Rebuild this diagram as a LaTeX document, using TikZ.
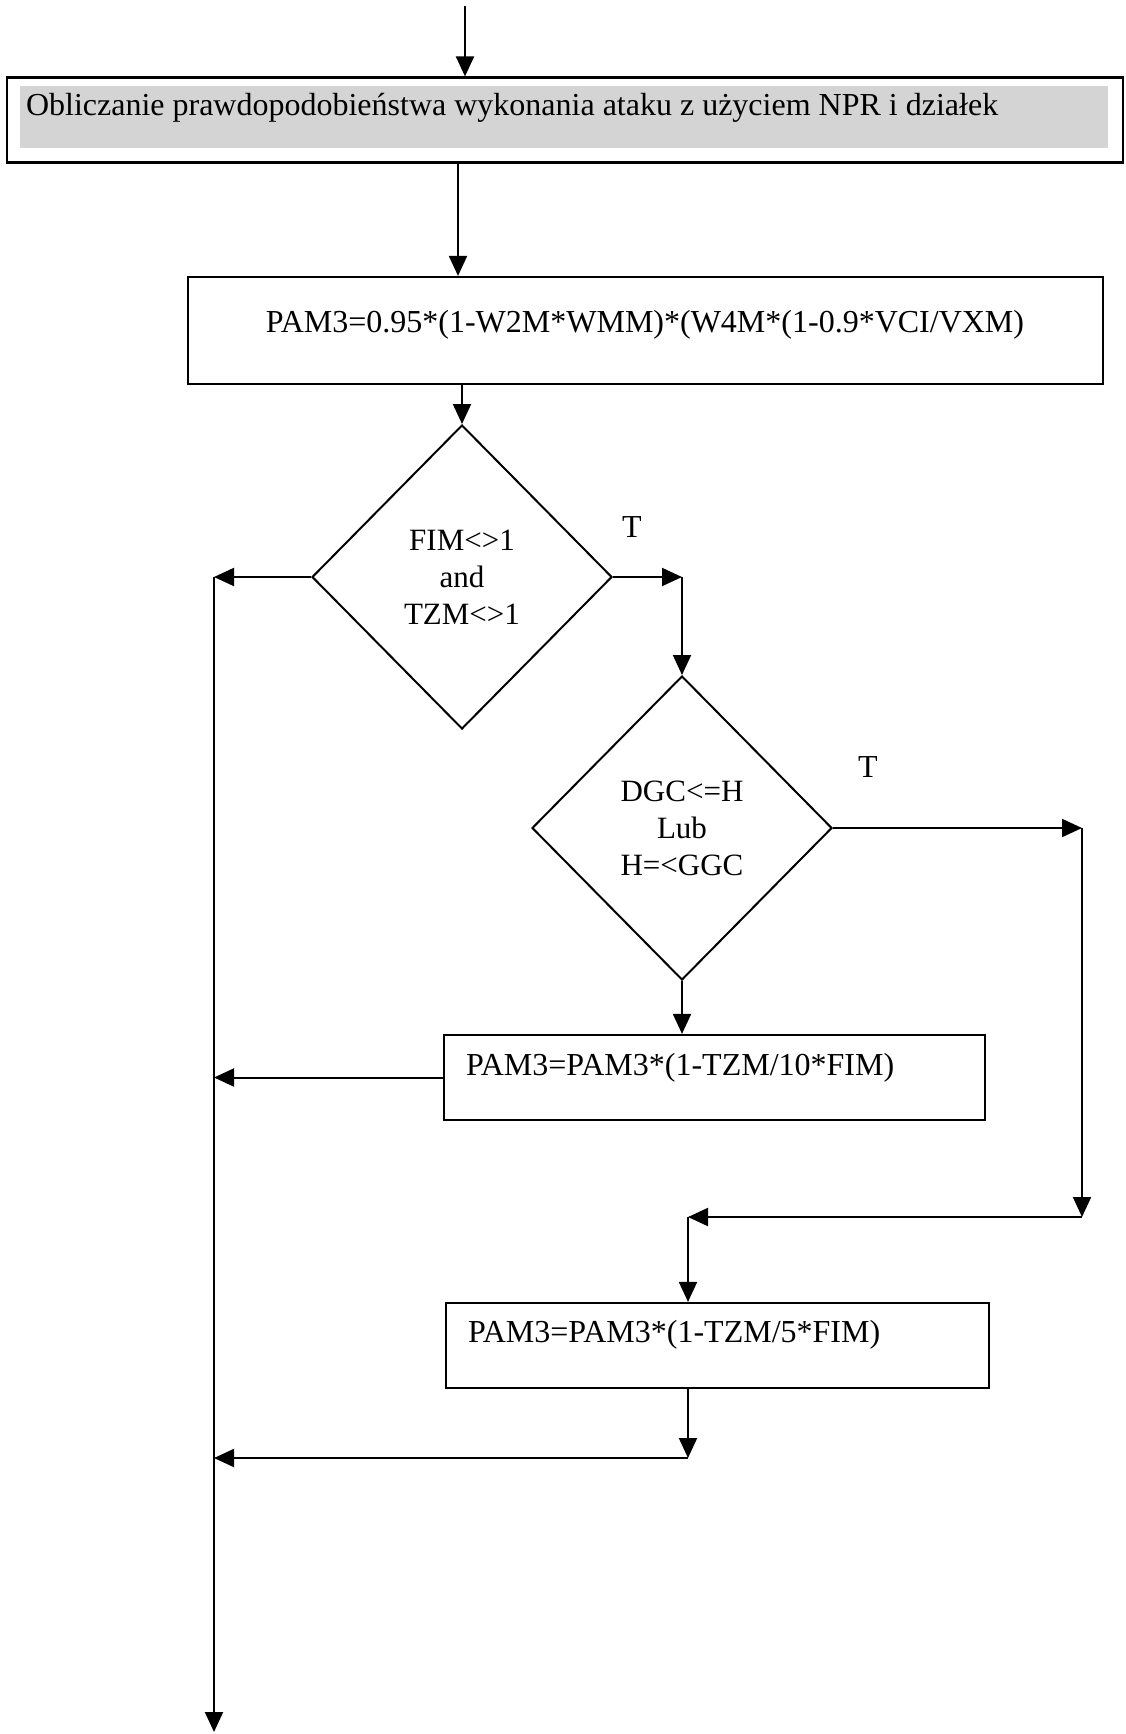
\documentclass[tikz,border=0pt]{standalone}
\usepackage{fontspec}
\setmainfont{Liberation Serif}
\usetikzlibrary{shapes.geometric,arrows.meta}

\begin{document}
\begin{tikzpicture}[x=1pt,y=-1pt,
  line width=2pt,
  >={Triangle[length=20pt,width=18pt]},
  proc/.style={draw,line width=2.2pt,rectangle,inner sep=0pt},
  decision/.style={draw,diamond,line width=2pt,inner sep=0pt,
    minimum width=300pt,minimum height=304pt,
    font=\fontsize{31}{37}\selectfont,align=center},
  lbl/.style={font=\fontsize{32}{37}\selectfont,inner sep=0pt,align=center},
]
\useasboundingbox (0,0) rectangle (1125,1734);

% header box with shaded band
\node[proc,minimum width=1116pt,minimum height=85pt] (b1) at (565,120) {};
\node[fill=black!17,minimum width=1088pt,minimum height=62pt,inner sep=0pt] (b1band) at (564,117) {};
\node[lbl,anchor=west] (b1t) at (25,108) {Obliczanie prawdopodobieństwa wykonania ataku z użyciem NPR i działek};

% initial probability
\node[proc,minimum width=915pt,minimum height=107pt] (b2) at (645.5,330.5) {};
\node[lbl] (b2t) at (645,325) {PAM3=0.95*(1-W2M*WMM)*(W4M*(1-0.9*VCI/VXM)};

% decisions
\node[decision] (d1) at (462,577) {FIM<>1\\and\\TZM<>1};
\node[lbl] (t1) at (632,527) {T};
\node[decision] (d2) at (682,828) {DGC<=H\\Lub\\H=<GGC};
\node[lbl] (t2) at (868,767) {T};

% corrections
\node[proc,minimum width=541pt,minimum height=85pt] (b3) at (714.5,1077.5) {};
\node[lbl,anchor=west] (b3t) at (465,1068) {PAM3=PAM3*(1-TZM/10*FIM)};
\node[proc,minimum width=543pt,minimum height=85pt] (b4) at (717.5,1345.5) {};
\node[lbl,anchor=west] (b4t) at (467,1335) {PAM3=PAM3*(1-TZM/5*FIM)};

% helper coordinates for the routing
\coordinate (in) at (465,6);
\coordinate (colA) at (458,0);
\coordinate (main) at (214,0);
\coordinate (out) at (214,1732);
\coordinate (right) at (1082,0);
\coordinate (mergeR) at (0,1217);
\coordinate (colB) at (688,0);
\coordinate (mergeL) at (0,1458);

% connectors
\draw[->] (in) -- (in |- b1.north);
\draw[->] (colA |- b1.south) -- (colA |- b2.north);
\draw[->] (d1.north |- b2.south) -- (d1.north);
\draw[->] (d1.east) -- (d1.east -| d2.north);
\draw[->] (d1.east -| d2.north) -- (d2.north);
\draw[->] (d1.west) -- (d1.west -| main);
\draw[->] (d1.west -| main) -- (out);
\draw[->] (d2.east) -- (d2.east -| right);
\draw[->] (d2.east -| right) -- (right |- mergeR);
\draw[->] (right |- mergeR) -- (colB |- mergeR);
\draw[->] (colB |- mergeR) -- (colB |- b4.north);
\draw[->] (d2.south) -- (d2.south |- b3.north);
\draw[->] (b3.west) -- (b3.west -| main);
\draw[->] (colB |- b4.south) -- (colB |- mergeL);
\draw[->] (colB |- mergeL) -- (main |- mergeL);
\end{tikzpicture}
\end{document}
